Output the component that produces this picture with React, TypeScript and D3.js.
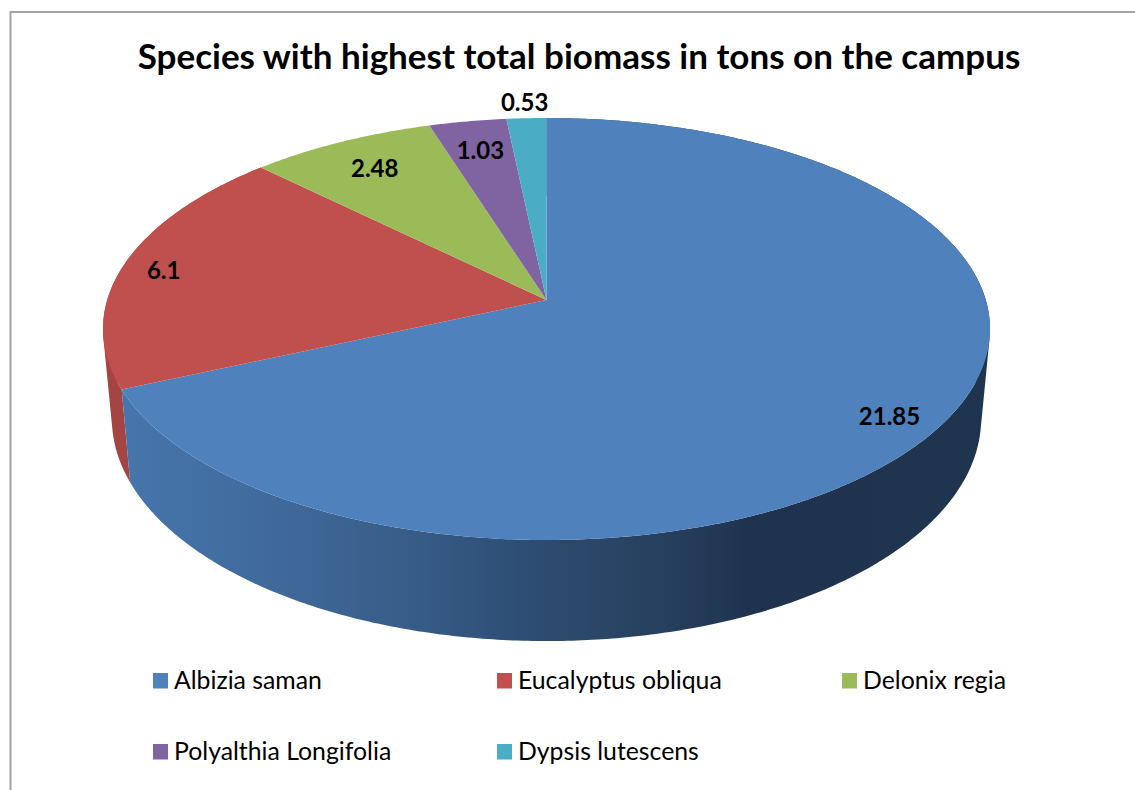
import { useEffect, useRef } from "react"
import * as d3 from "d3"

const species = ["Albizia saman", "Eucalyptus obliqua", "Delonix regia", "Polyalthia Longifolia", "Dypsis lutescens"]
const biomass = [21.85, 6.1, 2.48, 1.03, 0.53]
const biomassLabels = ["21.85", "6.1", "2.48", "1.03", "0.53"]
const sliceColors = ["#4f81bd", "#c0504d", "#9bbb59", "#8064a2", "#4bacc6"]
const labelRadius = [0.87, 0.905, 0.82, 0.82, 1.1]
const labelNudge = [12, 3, 0, 0, 0]

const font = "Lato, 'Open Sans', sans-serif"

// circle -> screen, the top face and the bottom rim share one perspective
const perspective = -0.1374
const level = (t: number) => ({
  a: 165.8 - 0.8 * t,
  b: 300 + 88 * t,
  r: 439.3 - 8.8 * t,
})

function project(angle: number, radius: number, t: number): [number, number] {
  const { a, b, r } = level(t)
  const u = Math.sin(angle) * radius
  const v = -Math.cos(angle) * radius
  const w = 1 + perspective * v
  return [546.5 + (r * u) / w, (a * v + b) / w]
}

function sampleAngles(start: number, end: number) {
  return [...d3.range(start, end, 0.01), end]
}

export default function App() {
  const svgRef = useRef<SVGSVGElement>(null)

  useEffect(() => {
    if (!svgRef.current) return

    const svg = d3.select(svgRef.current)
    svg.selectAll("*").remove()

    const slices = d3
      .pie<number>()
      .sort(null)
      .value((d) => d)(biomass)

    const closed = d3.line().curve(d3.curveLinearClosed)

    // chart frame, cut by the right and bottom of the page
    svg
      .append("path")
      .attr("d", "M10.5,790V12H1135")
      .attr("fill", "none")
      .attr("stroke", "#a3a3a3")
      .attr("stroke-width", 2)

    const defs = svg.append("defs")
    const sideGradient = defs
      .append("linearGradient")
      .attr("id", "blue-side")
      .attr("gradientUnits", "userSpaceOnUse")
      .attr("x1", 120)
      .attr("x2", 990)
      .attr("y1", 0)
      .attr("y2", 0)
    const stops: [number, string][] = [
      [0, "#4676ad"],
      [0.2, "#3f6899"],
      [0.35, "#365b85"],
      [0.45, "#2e4f76"],
      [0.55, "#2b4667"],
      [0.66, "#243c5a"],
      [0.72, "#1f334f"],
      [1, "#1f344e"],
    ]
    stops.forEach(([offset, color]) => {
      sideGradient.append("stop").attr("offset", offset).attr("stop-color", color)
    })

    const sideFill = ["url(#blue-side)", "#a44543"]

    // red wall first, the blue one sits in front of it
    ;[1, 0].forEach((i) => {
      const angles = sampleAngles(slices[i].startAngle, slices[i].endAngle)
      const quads = d3.pairs(angles).map(([a0, a1]) => {
        const hull = d3.polygonHull([
          project(a0, 1, 0),
          project(a1, 1, 0),
          project(a1, 1, 1),
          project(a0, 1, 1),
        ])
        return hull ? closed(hull) : ""
      })
      svg.append("path").attr("d", quads.join("")).attr("fill", sideFill[i])
    })

    // top face
    svg
      .selectAll(".slice")
      .data(slices)
      .enter()
      .append("path")
      .attr("class", "slice")
      .attr("d", (d) =>
        closed([
          project(0, 0, 0),
          ...sampleAngles(d.startAngle, d.endAngle).map((a) => project(a, 1, 0)),
        ]),
      )
      .attr("fill", (d, i) => sliceColors[i])

    // data labels
    svg
      .selectAll(".value-label")
      .data(slices)
      .enter()
      .append("text")
      .attr("class", "value-label")
      .attr("x", (d, i) => project((d.startAngle + d.endAngle) / 2, labelRadius[i], 0)[0])
      .attr("y", (d, i) => project((d.startAngle + d.endAngle) / 2, labelRadius[i], 0)[1] + labelNudge[i])
      .attr("dy", "0.36em")
      .attr("text-anchor", "middle")
      .style("font-family", font)
      .style("font-size", "24px")
      .style("font-weight", 700)
      .style("fill", "#000")
      .text((d, i) => biomassLabels[i])

    svg
      .append("text")
      .attr("x", 579)
      .attr("y", 69)
      .attr("text-anchor", "middle")
      .style("font-family", font)
      .style("font-size", "35px")
      .style("font-weight", 700)
      .style("fill", "#000")
      .text("Species with highest total biomass in tons on the campus")

    const legendColumns = [153, 497, 842]
    const legendRows = [673, 744]

    const legendItem = svg
      .selectAll(".legend-item")
      .data(species)
      .enter()
      .append("g")
      .attr("class", "legend-item")
      .attr("transform", (d, i) => `translate(${legendColumns[i % 3]},${legendRows[Math.floor(i / 3)]})`)

    legendItem
      .append("rect")
      .attr("width", 15)
      .attr("height", 15.5)
      .attr("fill", (d, i) => sliceColors[i])

    legendItem
      .append("text")
      .attr("x", 21)
      .attr("y", 16)
      .style("font-family", font)
      .style("font-size", "24.8px")
      .style("fill", "#000")
      .text((d) => d)
  }, [])

  return (
    <svg
      ref={svgRef}
      width={1135}
      height={790}
      style={{ position: "absolute", left: 0, top: 0, background: "#fff" }}
    ></svg>
  )
}
